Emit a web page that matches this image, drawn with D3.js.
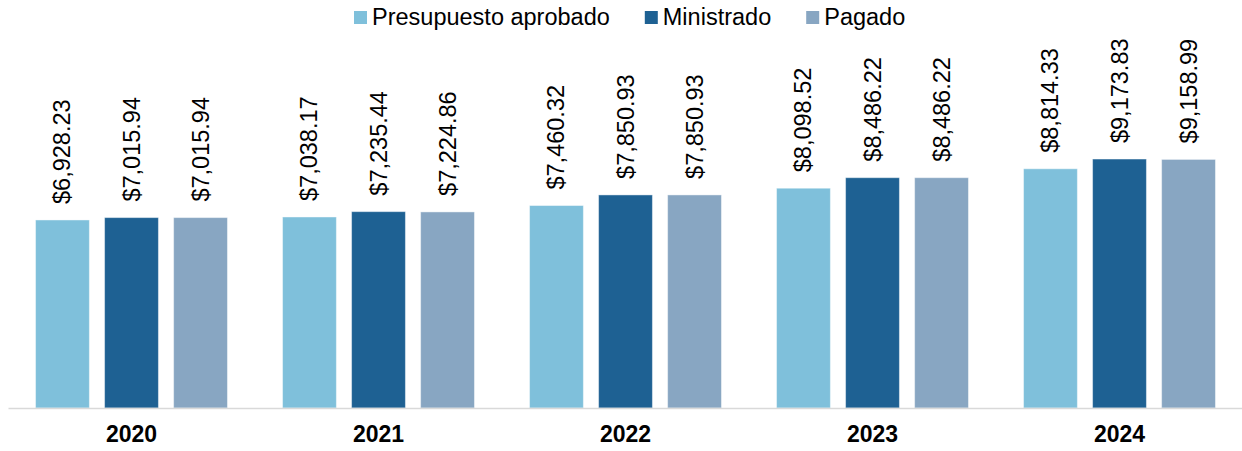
<!DOCTYPE html>
<html>
<head>
<meta charset="utf-8">
<script src="https://cdn.jsdelivr.net/npm/d3@7"></script>
<style>
  body { margin: 0; background: #fff; }
  text { font-family: "Liberation Sans", Arial, sans-serif; }
</style>
</head>
<body>
<script>
const w = 1242
const h = 451

// Data: presupuesto por año (millones)
const years = ["2020", "2021", "2022", "2023", "2024"]
const seriesNames = ["Presupuesto aprobado", "Ministrado", "Pagado"]
const aprobado = [6928.23, 7038.17, 7460.32, 8098.52, 8814.33]
const ministrado = [7015.94, 7235.44, 7850.93, 8486.22, 9173.83]
const pagado = [7015.94, 7224.86, 7850.93, 8486.22, 9158.99]
const colors = ["#7fc0db", "#1e6193", "#88a6c2"]

const seriesValues = [aprobado, ministrado, pagado]
const rows = years.map((year, i) => ({
  year: year,
  values: seriesNames.map((name, j) => ({ name: name, value: seriesValues[j][i] }))
}))

const baseY = 408
const fmt = d3.format(",.2f")

const svg = d3.select("body")
              .append("svg")
              .attr("width", w)
              .attr("height", h)

const x0 = d3.scaleBand()
             .domain(years)
             .range([8, 1243])
             .paddingInner(0.223)
             .paddingOuter(0.1115)

const x1 = d3.scaleBand()
             .domain(seriesNames)
             .range([0, x0.bandwidth()])
             .paddingInner(0.22)

const y = d3.scaleLinear()
            .domain([0, 15000])
            .range([baseY, baseY - 15000 * 0.02714])

const color = d3.scaleOrdinal().domain(seriesNames).range(colors)

// bars
const groups = svg.selectAll("g.year")
                  .data(rows)
                  .enter()
                  .append("g")
                  .attr("class", "year")
                  .attr("transform", d => `translate(${x0(d.year)},0)`)

groups.selectAll("rect")
      .data(d => d.values)
      .enter()
      .append("rect")
      .attr("x", d => x1(d.name))
      .attr("y", d => y(d.value))
      .attr("width", x1.bandwidth())
      .attr("height", d => y(0) - y(d.value))
      .attr("fill", d => color(d.name))
      .attr("stroke", "#ffffff")
      .attr("stroke-opacity", 0.45)
      .attr("stroke-width", 1)

// value labels, rotated
groups.selectAll("text.value")
      .data(d => d.values)
      .enter()
      .append("text")
      .attr("class", "value")
      .attr("transform", d => `translate(${x1(d.name) + x1.bandwidth() / 2 + 8},${y(d.value) - 16}) rotate(-90)`)
      .attr("font-size", 23.5)
      .attr("fill", "#000")
      .text(d => "$" + fmt(d.value))

// axis
const xAxis = d3.axisBottom(x0).tickSize(0).tickPadding(18)
const axisG = svg.append("g")
                 .attr("transform", `translate(0,${baseY})`)
                 .call(xAxis)
axisG.select(".domain").attr("stroke", "#d9d9d9").attr("stroke-width", 1.5)
axisG.selectAll("text")
     .attr("font-family", "Liberation Sans, Arial, sans-serif")
     .attr("font-size", 23)
     .attr("font-weight", "bold")
     .attr("fill", "#000")

// legend
const legend = svg.append("g").attr("transform", "translate(354,0)")
let lx = 0
seriesNames.forEach(name => {
  const item = legend.append("g").attr("transform", `translate(${lx},0)`)
  item.append("rect")
      .attr("x", 0)
      .attr("y", 11)
      .attr("width", 13)
      .attr("height", 13)
      .attr("fill", color(name))
  const t = item.append("text")
                .attr("x", 18)
                .attr("y", 25)
                .attr("font-size", 23.5)
                .attr("fill", "#000")
                .text(name)
  lx += 18 + t.node().getComputedTextLength() + 35
})
</script>
</body>
</html>
